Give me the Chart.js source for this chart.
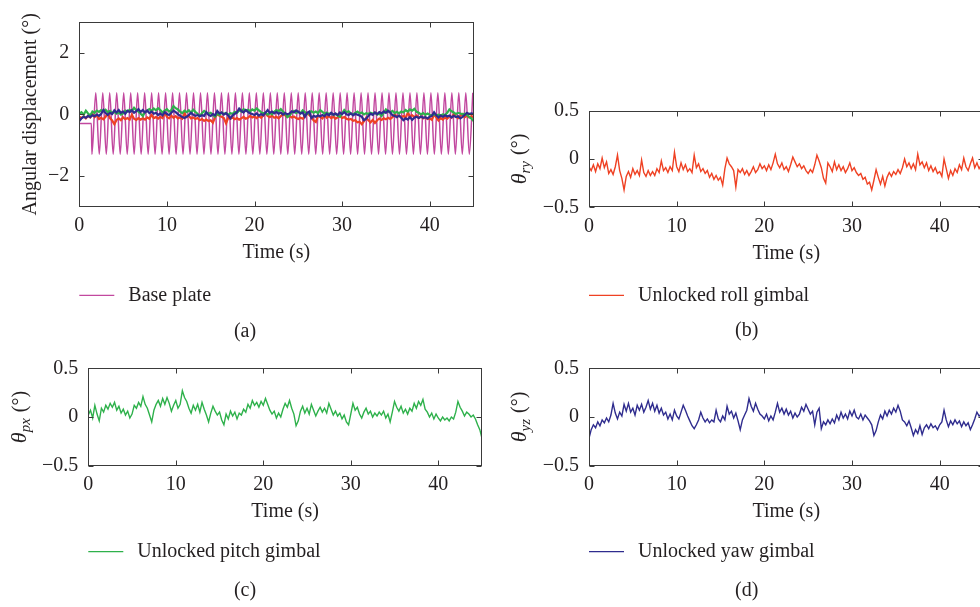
<!DOCTYPE html>
<html>
<head>
<meta charset="utf-8">
<script src="https://cdn.jsdelivr.net/npm/chart.js@4.4.1/dist/chart.umd.min.js"></script>
<style>
html,body{margin:0;padding:0;background:#fff;overflow:hidden;width:980px;height:607px;position:relative;}
canvas{position:absolute;}
</style>
</head>
<body>
<canvas id="pa" width="490" height="345" style="left:0;top:0"></canvas>
<canvas id="pb" width="520" height="345" style="left:490px;top:0"></canvas>
<canvas id="pc" width="490" height="262" style="left:0;top:345px"></canvas>
<canvas id="pd" width="520" height="262" style="left:490px;top:345px"></canvas>
<script>
// ---------------- data ----------------
const sampleStep = 0.25; // s, sampling interval of the gimbal traces
const xTicks = [0, 10, 20, 30, 40];
const yTicksA = [-2, 0, 2];
const yTicksSmall = [-0.5, 0, 0.5];

// Base plate: level before excitation, then extrema of the oscillation
const baseRestTimes = [0, 1.38];
const baseRestLevel = -0.3;
const basePeakLevel = 0.7;
const baseTroughLevel = -1.3;
const basePeakTimes = [1.88,2.68,3.47,4.27,5.07,5.87,6.66,7.46,8.26,9.05,9.85,10.65,11.44,12.24,13.04,13.84,14.63,15.43,16.23,17.02,17.82,18.62,19.41,20.21,21.01,21.81,22.60,23.40,24.20,24.99,25.79,26.59,27.38,28.18,28.98,29.78,30.57,31.37,32.17,32.96,33.76,34.56,35.35,36.15,36.95,37.75,38.54,39.34,40.14,40.93,41.73,42.53,43.32,44.12,44.92];
const baseTroughTimes = [1.44,2.28,3.08,3.87,4.67,5.47,6.26,7.06,7.86,8.65,9.45,10.25,11.05,11.84,12.64,13.44,14.23,15.03,15.83,16.62,17.42,18.22,19.02,19.81,20.61,21.41,22.20,23.00,23.80,24.59,25.39,26.19,26.99,27.78,28.58,29.38,30.17,30.97,31.77,32.56,33.36,34.16,34.96,35.75,36.55,37.35,38.14,38.94,39.74,40.53,41.33,42.13,42.93,43.72,44.52];

// Unlocked roll gimbal (theta_ry), deg
const rollGimbal = [-0.08,-0.12,-0.06,-0.13,-0.05,-0.10,0.01,-0.09,-0.03,-0.15,
-0.11,-0.16,-0.08,0.04,-0.12,-0.20,-0.32,-0.18,-0.13,-0.19,
-0.10,-0.16,-0.12,-0.17,-0.01,-0.14,-0.18,-0.12,-0.17,-0.13,
-0.17,-0.10,-0.14,-0.02,-0.12,-0.09,-0.14,-0.08,-0.12,0.07,
-0.08,-0.13,-0.04,-0.11,-0.06,-0.13,-0.10,-0.14,0.04,-0.09,
-0.05,-0.13,-0.10,-0.15,-0.12,-0.19,-0.15,-0.21,-0.17,-0.22,
-0.19,-0.27,-0.10,0.01,-0.05,-0.08,-0.12,-0.29,-0.11,-0.14,
-0.10,-0.16,-0.12,-0.17,-0.13,-0.08,-0.14,-0.11,-0.05,-0.10,
-0.07,-0.12,-0.06,-0.11,-0.04,0.05,-0.05,-0.09,-0.04,-0.11,
-0.08,-0.13,-0.06,0.02,-0.03,-0.08,-0.05,-0.10,-0.07,-0.12,
-0.15,-0.11,-0.14,-0.06,0.04,-0.02,-0.09,-0.20,-0.25,-0.04,
-0.08,-0.13,-0.03,-0.11,-0.06,-0.12,-0.08,-0.14,-0.10,-0.04,
-0.12,-0.09,-0.14,-0.17,-0.15,-0.21,-0.19,-0.26,-0.24,-0.32,
-0.22,-0.11,-0.19,-0.26,-0.18,-0.28,-0.19,-0.14,-0.18,-0.13,
-0.16,-0.11,-0.15,-0.09,0.00,-0.08,-0.04,-0.10,-0.05,-0.11,
0.05,-0.06,-0.03,-0.09,-0.04,-0.12,-0.07,-0.13,-0.09,-0.15,
-0.13,-0.18,0.00,-0.10,-0.20,-0.12,-0.17,-0.10,-0.14,-0.06,
-0.11,0.01,-0.08,-0.12,-0.05,0.01,-0.09,-0.04,-0.10,-0.06,
-0.09];

// Unlocked pitch gimbal (theta_px), deg
const pitchGimbal = [0.02,0.07,-0.01,0.12,0.03,-0.04,0.09,0.05,0.12,0.08,
0.14,0.10,0.15,0.07,0.11,0.04,0.08,0.02,0.06,-0.01,
0.03,0.12,0.09,0.15,0.11,0.21,0.13,0.09,0.02,-0.05,
0.07,0.13,0.17,0.11,0.19,0.13,0.20,0.14,0.06,0.12,
0.17,0.09,0.13,0.27,0.20,0.16,0.09,0.04,0.12,0.07,
0.13,0.05,0.15,0.08,0.02,-0.05,0.04,0.11,0.06,0.02,
0.05,-0.03,-0.08,0.03,-0.02,0.06,0.01,0.05,-0.02,0.04,
0.02,0.08,0.05,0.13,0.09,0.17,0.12,0.15,0.10,0.16,
0.12,0.19,0.13,0.07,0.03,0.06,-0.01,0.04,0.00,0.08,
0.14,0.10,0.17,0.09,0.03,-0.09,-0.04,0.06,0.11,0.04,
0.09,0.03,0.13,0.07,0.01,0.06,0.10,0.05,0.09,0.04,
0.14,0.08,0.02,0.06,0.01,0.04,-0.02,0.02,-0.05,-0.08,
0.03,0.14,0.07,0.10,0.03,-0.01,0.05,0.09,0.03,0.06,
0.00,0.04,0.01,0.05,0.02,0.06,-0.01,0.03,-0.05,0.05,
0.16,0.10,0.06,0.11,0.04,0.08,0.03,0.09,0.06,0.14,
0.09,0.16,0.12,0.18,0.08,0.05,0.00,0.04,-0.02,0.03,
-0.01,-0.04,0.00,-0.03,-0.01,-0.04,0.00,-0.02,0.05,0.16,
0.10,0.06,0.01,0.05,0.03,0.00,0.02,-0.02,-0.08,-0.13,
-0.22];

// Unlocked yaw gimbal (theta_yz), deg
const yawGimbal = [-0.22,-0.13,-0.08,-0.11,-0.05,-0.09,-0.03,-0.06,-0.01,-0.05,
0.02,0.14,0.04,-0.02,0.05,0.01,0.13,0.06,0.14,0.05,
0.09,0.02,0.12,0.07,0.13,0.05,0.10,0.17,0.08,0.14,
0.06,0.12,0.04,0.09,0.02,0.05,-0.02,0.03,-0.03,0.07,
0.01,-0.02,0.05,0.12,0.07,0.01,-0.04,-0.09,-0.12,-0.08,
-0.03,0.05,-0.01,-0.05,-0.02,-0.06,-0.03,-0.05,0.07,-0.02,
-0.05,0.01,-0.03,0.11,0.03,0.06,-0.01,0.04,-0.04,-0.13,
-0.03,0.02,0.07,0.19,0.11,0.06,0.14,0.08,0.03,0.01,
-0.02,0.03,-0.04,0.01,-0.03,0.05,0.14,0.05,0.09,0.03,
0.08,0.02,0.06,-0.01,0.04,0.00,0.03,0.10,0.06,0.13,
0.08,0.03,0.06,-0.08,0.05,0.09,-0.12,-0.05,-0.08,-0.03,
-0.07,-0.02,-0.06,0.02,-0.03,0.05,-0.01,0.03,-0.02,0.06,
0.01,0.07,0.00,-0.02,0.03,-0.03,0.02,-0.01,-0.04,-0.08,
-0.19,-0.14,-0.05,0.02,-0.02,0.06,0.01,0.07,0.03,0.09,
0.05,0.12,0.06,-0.03,-0.05,-0.09,-0.04,-0.11,-0.19,-0.13,
-0.17,-0.09,-0.18,-0.11,-0.08,-0.12,-0.07,-0.11,-0.09,-0.13,
-0.08,-0.05,0.07,-0.03,-0.10,-0.04,-0.08,-0.03,-0.07,-0.04,
-0.10,-0.05,-0.09,-0.06,-0.13,-0.08,-0.02,0.05,0.01,0.03,
0.02];

// ---------------- helpers ----------------
const SERIF = '"Liberation Serif", "Times New Roman", serif';
const TEXT = '#231f20';
const FRAME = '#3a3a3a';
const C_BASE = '#c2489f', C_ROLL = '#ef4123', C_PITCH = '#2eb14b', C_YAW = '#2f2c8e';

function toPoints(arr){ return arr.map((v,i)=>({x:i*sampleStep, y:v})); }
function basePoints(){
  const pts = baseRestTimes.map(t=>({x:t,y:baseRestLevel}));
  basePeakTimes.forEach(t=>pts.push({x:t,y:basePeakLevel}));
  baseTroughTimes.forEach(t=>pts.push({x:t,y:baseTroughLevel}));
  return pts.sort((a,b)=>a.x-b.x);
}
function fmt(v){ return (v<0?'\u2212':'') + Math.abs(v); }

const decoPlugin = {
  id:'deco',
  afterDatasetsDraw(chart){
    const {ctx, chartArea:a, scales:{x,y}} = chart;
    ctx.save();
    ctx.strokeStyle = FRAME; ctx.lineWidth = 1;
    const L=Math.round(a.left)+0.5, T=Math.round(a.top)+0.5, R=Math.round(a.right)-0.5, B=Math.round(a.bottom)-0.5;
    ctx.strokeRect(L, T, R-L, B-T);
    ctx.beginPath();
    x.ticks.forEach(t=>{ const px=Math.round(x.getPixelForValue(t.value))+0.5; ctx.moveTo(px,B); ctx.lineTo(px,B-5); ctx.moveTo(px,T); ctx.lineTo(px,T+5); });
    y.ticks.forEach(t=>{ const py=Math.round(y.getPixelForValue(t.value))+0.5; ctx.moveTo(L,py); ctx.lineTo(L+5,py); ctx.moveTo(R,py); ctx.lineTo(R-5,py); });
    ctx.stroke();
    ctx.restore();
  },
  afterDraw(chart){
    const o = chart.options.plugins.deco;
    const {ctx, chartArea:a} = chart;
    ctx.save();
    ctx.fillStyle = TEXT;
    const cy = (a.top+a.bottom)/2;
    // y-axis label
    ctx.translate(a.left - o.yLabelGap, cy);
    ctx.rotate(-Math.PI/2);
    ctx.textBaseline = 'middle';
    if (o.ySub) {
      const fIt='italic 22px '+SERIF, fSub='italic 15px '+SERIF, fMain='20px '+SERIF;
      ctx.font=fIt; const w1=ctx.measureText('\u03B8').width;
      ctx.font=fSub; const w2=ctx.measureText(o.ySub).width;
      ctx.font=fMain; const w3=ctx.measureText(' (\u00B0)').width;
      let x0 = -(w1+w2+1+w3)/2;
      ctx.textAlign='left';
      ctx.font=fIt; ctx.fillText('\u03B8', x0, 0); x0+=w1;
      ctx.font=fSub; ctx.fillText(o.ySub, x0, 6); x0+=w2+1;
      ctx.font=fMain; ctx.fillText(' (\u00B0)', x0, 0);
    } else {
      ctx.font='20px '+SERIF; ctx.textAlign='center';
      ctx.fillText(o.yTitle, 0, 0);
    }
    ctx.setTransform(1,0,0,1,0,0);
    // legend
    const ly = a.bottom + o.legendGap;
    ctx.strokeStyle = o.legendColor; ctx.lineWidth = 1.2;
    ctx.beginPath(); ctx.moveTo(a.left, ly); ctx.lineTo(a.left+35, ly); ctx.stroke();
    ctx.font='20px '+SERIF; ctx.textAlign='left'; ctx.textBaseline='middle';
    ctx.fillText(o.legendText, a.left+49, ly);
    // caption
    ctx.textAlign='center';
    ctx.fillText(o.caption, o.captionX, a.bottom + o.captionGap);
    ctx.restore();
  }
};

function makePanel(id, cw, ch, area, yMin, yMax, yTicks, datasets, deco){
  const XH = 58;
  return new Chart(document.getElementById(id), {
    type:'line',
    data:{datasets},
    options:{
      responsive:false, animation:false, devicePixelRatio:1,
      layout:{padding:{left:0, top:area.T, right:cw-area.R, bottom:ch-area.B-XH}},
      plugins:{legend:{display:false}, tooltip:{enabled:false}, deco},
      elements:{point:{radius:0}},
      scales:{
        x:{type:'linear', min:0, max:45,
           afterBuildTicks:s=>{ s.ticks = xTicks.map(v=>({value:v})); },
           afterFit:s=>{ s.height = XH; },
           grid:{display:false, drawTicks:false}, border:{display:false},
           ticks:{font:{family:SERIF,size:20}, color:TEXT, padding:7, maxRotation:0, autoSkip:false, callback:fmt},
           title:{display:true, text:'Time (s)', font:{family:SERIF,size:20}, color:TEXT, padding:{top:0,bottom:0}}},
        y:{type:'linear', min:yMin, max:yMax,
           afterBuildTicks:s=>{ s.ticks = yTicks.map(v=>({value:v})); },
           afterFit:s=>{ s.width = area.L; },
           grid:{display:false, drawTicks:false}, border:{display:false},
           ticks:{font:{family:SERIF,size:20}, color:TEXT, padding:10, autoSkip:false, callback:fmt}}
      }
    },
    plugins:[decoPlugin]
  });
}

// (a)
makePanel('pa', 490, 345, {L:79.3, T:13.4, R:473.5, B:206.7}, -3, 3, yTicksA, [
  {label:'Base plate', data:basePoints(), borderColor:C_BASE, borderWidth:1.5, cubicInterpolationMode:'monotone', order:4},
  {label:'Unlocked roll gimbal', data:toPoints(rollGimbal), borderColor:C_ROLL, borderWidth:2.2, order:3},
  {label:'Unlocked pitch gimbal', data:toPoints(pitchGimbal), borderColor:C_PITCH, borderWidth:2.2, order:2},
  {label:'Unlocked yaw gimbal', data:toPoints(yawGimbal), borderColor:C_YAW, borderWidth:2.2, order:1}
], {yTitle:'Angular displacement (\u00B0)', yLabelGap:49, legendText:'Base plate', legendColor:C_BASE, legendGap:88.6, caption:'(a)', captionX:245, captionGap:125});

// (b)
makePanel('pb', 520, 345, {L:99, T:110.7, R:493.5, B:207.3}, -0.5, 0.5, yTicksSmall, [
  {label:'Unlocked roll gimbal', data:toPoints(rollGimbal), borderColor:C_ROLL, borderWidth:1.4}
], {ySub:'ry', yLabelGap:69, legendText:'Unlocked roll gimbal', legendColor:C_ROLL, legendGap:88, caption:'(b)', captionX:256.7, captionGap:123.5});

// (c)
makePanel('pc', 490, 262, {L:88.3, T:23.3, R:482, B:120.7}, -0.5, 0.5, yTicksSmall, [
  {label:'Unlocked pitch gimbal', data:toPoints(pitchGimbal), borderColor:C_PITCH, borderWidth:1.4}
], {ySub:'px', yLabelGap:68, legendText:'Unlocked pitch gimbal', legendColor:C_PITCH, legendGap:86, caption:'(c)', captionX:245, captionGap:125});

// (d)
makePanel('pd', 520, 262, {L:99, T:23.3, R:493.5, B:120.7}, -0.5, 0.5, yTicksSmall, [
  {label:'Unlocked yaw gimbal', data:toPoints(yawGimbal), borderColor:C_YAW, borderWidth:1.4}
], {ySub:'yz', yLabelGap:69, legendText:'Unlocked yaw gimbal', legendColor:C_YAW, legendGap:86, caption:'(d)', captionX:256.7, captionGap:125});
</script>
</body>
</html>
